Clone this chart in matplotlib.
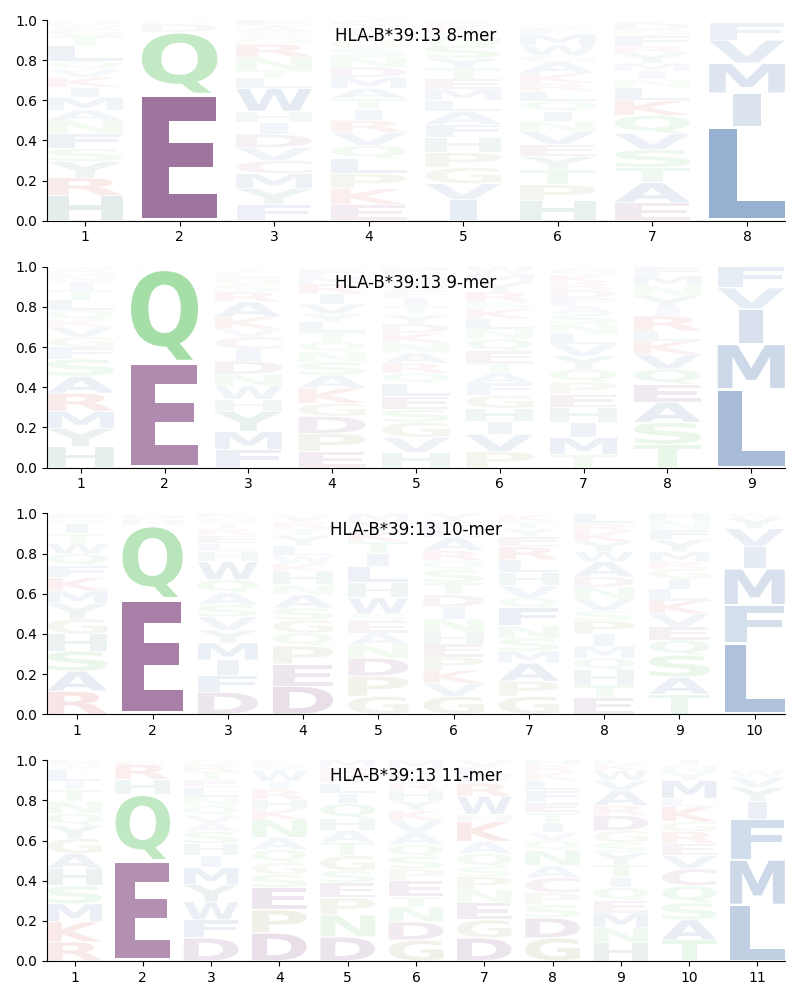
import matplotlib
matplotlib.use("Agg")
import matplotlib.pyplot as plt
from matplotlib.textpath import TextPath
from matplotlib.patches import PathPatch
from matplotlib.font_manager import FontProperties
from matplotlib.transforms import Affine2D
from matplotlib.colors import to_rgb

# letters per position, listed bottom -> top, with their heights (frequencies)
titles = ["HLA-B*39:13 8-mer", "HLA-B*39:13 9-mer", "HLA-B*39:13 10-mer", "HLA-B*39:13 11-mer"]

letters_8 = ["HRYSFNAMIKVQLTGWD", "EQDHK", "FYMCVDIHWLTNRQSAE", "EKPLQVRITAMDNSGYWC",
             "IVGPHFALMETYSNQKR", "HPTYEVNIQLRKAGWMFS", "EATSVQKLNIMYRFGD", "LIMVF"]
heights_8 = [[.125, .09, .08, .065, .075, .065, .05, .065, .05, .05, .04, .04, .075, .05, .035, .02, .02],
             [.63, .31, .04, .01, .01],
             [.08, .08, .075, .065, .065, .065, .06, .055, .115, .05, .04, .065, .065, .03, .03, .03, .03],
             [.08, .08, .075, .075, .065, .065, .06, .055, .055, .05, .055, .05, .05, .045, .04, .04, .03, .03],
             [.105, .08, .08, .075, .075, .065, .065, .055, .055, .05, .055, .05, .065, .04, .03, .03, .025],
             [.1, .08, .075, .065, .06, .065, .05, .05, .05, .05, .04, .05, .055, .035, .05, .055, .03, .025],
             [.09, .1, .075, .09, .08, .09, .075, .065, .04, .04, .04, .05, .035, .05, .03, .035],
             [.47, .165, .15, .115, .085]]

letters_9 = ["HYMRASFGVKQLTINDW", "EQD", "FMYHWNDICVKARSGLT", "EPDGKASNQTLYVIRMF",
             "HVGSELQRANKDYTIFWMCP", "PVIHGFATEQNLKSRYMW", "TMIHEPQYVLNSAFDRKG",
             "TSAEQVKLRIYNMF", "LMIVF"]
heights_9 = [[.105, .09, .085, .09, .085, .085, .06, .05, .05, .035, .05, .05, .05, .04, .03, .025, .02],
             [.525, .465, .01],
             [.09, .09, .1, .06, .065, .06, .065, .06, .06, .04, .06, .075, .05, .035, .04, .025, .025],
             [.08, .09, .085, .065, .075, .065, .065, .05, .05, .05, .05, .04, .05, .05, .05, .04, .035],
             [.075, .075, .075, .065, .065, .065, .05, .05, .05, .05, .05, .045, .045, .045, .04, .035, .03, .025, .03, .035],
             [.08, .085, .065, .065, .065, .06, .05, .05, .06, .06, .05, .05, .05, .035, .05, .05, .04, .035],
             [.065, .085, .075, .075, .065, .06, .065, .065, .06, .05, .05, .05, .04, .04, .04, .035, .04, .035],
             [.115, .11, .1, .09, .075, .075, .065, .05, .075, .04, .06, .05, .05, .045],
             [.39, .225, .175, .105, .105]]

letters_10 = ["RASHGYMKFQWTINE", "EQHD", "DFIMYVSAQWHLERTGK", "DEPQGSANHKWLYTRV",
              "GPDNAESWHLITKYM", "GVKPEHNIDTSQRALFY", "GPAMSNFQVHLREYTK",
              "ETHQMIPSVNDAWYKRL", "TASQEVKLIGRMYFNH", "LFMIVYW"]
heights_10 = [[.115, .1, .1, .085, .075, .075, .065, .065, .06, .06, .05, .05, .05, .025, .025],
              [.575, .365, .03, .025],
              [.11, .085, .075, .085, .065, .065, .06, .06, .065, .09, .05, .04, .04, .035, .03, .025, .025],
              [.14, .11, .09, .065, .065, .06, .065, .05, .065, .04, .04, .05, .05, .035, .035, .035],
              [.09, .1, .09, .065, .06, .06, .035, .08, .075, .08, .065, .06, .05, .05, .04],
              [.09, .065, .065, .065, .065, .06, .065, .06, .06, .06, .065, .045, .05, .065, .04, .04, .04],
              [.09, .075, .09, .06, .065, .06, .09, .05, .06, .065, .065, .065, .05, .04, .035, .035],
              [.085, .06, .075, .06, .06, .06, .065, .05, .06, .06, .05, .075, .05, .05, .05, .04, .05],
              [.1, .085, .11, .075, .065, .065, .065, .06, .05, .05, .035, .05, .06, .05, .045, .04],
              [.355, .19, .18, .11, .09, .055, .02]]

letters_11 = ["RKMSHAGYQNTILWE", "EQHRK", "DFWYMIHSAVQNLETRG", "DPESGQANKHRIWVL",
              "DNPESGTAHQILKRM", "GDNTEPSQAVKYHRLWM", "DGENPSQAKHWRFLV",
              "GDSPCANQVITEFLKRH", "HNMEQITYSGDRAVWKL", "TASQCVERGKLMYNI", "LMFIYVW"]
heights_11 = [[.095, .1, .09, .09, .085, .075, .075, .065, .06, .06, .06, .04, .06, .025, .025],
              [.5, .33, .075, .075, .02],
              [.115, .09, .09, .085, .085, .06, .06, .06, .04, .04, .05, .04, .05, .04, .04, .03, .03],
              [.14, .115, .11, .065, .06, .065, .06, .09, .05, .05, .05, .04, .055, .025, .025],
              [.12, .11, .085, .075, .06, .075, .065, .06, .06, .075, .05, .05, .04, .04, .04],
              [.105, .09, .075, .05, .08, .06, .06, .06, .06, .06, .05, .05, .05, .04, .04, .03, .04],
              [.115, .09, .085, .065, .065, .05, .065, .06, .1, .035, .09, .065, .04, .04, .035],
              [.115, .1, .065, .06, .075, .06, .075, .05, .04, .05, .05, .05, .06, .05, .04, .035, .03],
              [.09, .075, .075, .06, .065, .05, .065, .06, .05, .06, .075, .05, .075, .05, .05, .03, .025],
              [.105, .1, .085, .085, .085, .065, .06, .06, .05, .075, .04, .09, .04, .035, .03],
              [.28, .225, .2, .09, .07, .05, .035]]

# base colours by residue group; opacity = letter height
group_colors = {"AVLIMFW": "#22559b", "DE": "#682367", "C": "#963c78",
                "NQST": "#40ba46", "KR": "#c82828", "GP": "#82823a", "HY": "#2a6e6e"}
color_of = {c: to_rgb(col) for grp, col in group_colors.items() for c in grp}

FONT = FontProperties(family="DejaVu Sans", weight="bold")
WIDTH = 0.8
VPAD = 0.05
_paths = {}


def glyph(c):
    if c not in _paths:
        _paths[c] = TextPath((0, 0), c, size=1, prop=FONT)
    return _paths[c]


MAX_STRETCH = WIDTH / glyph("E").get_extents().width


def draw_logo(ax, letters, heights):
    for i, (seq, hs) in enumerate(zip(letters, heights)):
        x = i + 1
        y = 0.0
        for c, h in zip(seq, hs):
            path = glyph(c)
            bb = path.get_extents()
            sx = min(WIDTH / bb.width, MAX_STRETCH)
            gh = h * (1 - VPAD)
            t = Affine2D().translate(-(bb.x0 + bb.width / 2), -bb.y0) \
                .scale(sx, gh / bb.height).translate(x, y + h * VPAD / 2)
            rgb = color_of[c]
            ax.add_patch(PathPatch(t.transform_path(path), facecolor=(*rgb, min(h, 1.0)),
                                   edgecolor="none"))
            y += h
    n = len(letters)
    ax.set_xlim(0.6, n + 0.4)
    ax.set_ylim(0, 1)
    ax.set_xticks(range(1, n + 1))
    ax.set_yticks([0, 0.2, 0.4, 0.6, 0.8, 1.0])
    ax.spines["top"].set_visible(False)
    ax.spines["right"].set_visible(False)


fig, axes = plt.subplots(4, 1, figsize=(8, 10), dpi=100)
plt.subplots_adjust(left=0.059, right=0.981, top=0.98, bottom=0.039, hspace=0.229)

all_letters = [letters_8, letters_9, letters_10, letters_11]
all_heights = [heights_8, heights_9, heights_10, heights_11]
for ax, title, let, hts in zip(axes, titles, all_letters, all_heights):
    draw_logo(ax, let, hts)
    ax.text(0.5, 0.92, title, transform=ax.transAxes, ha="center", va="center", fontsize=12)

plt.savefig("out.png")
